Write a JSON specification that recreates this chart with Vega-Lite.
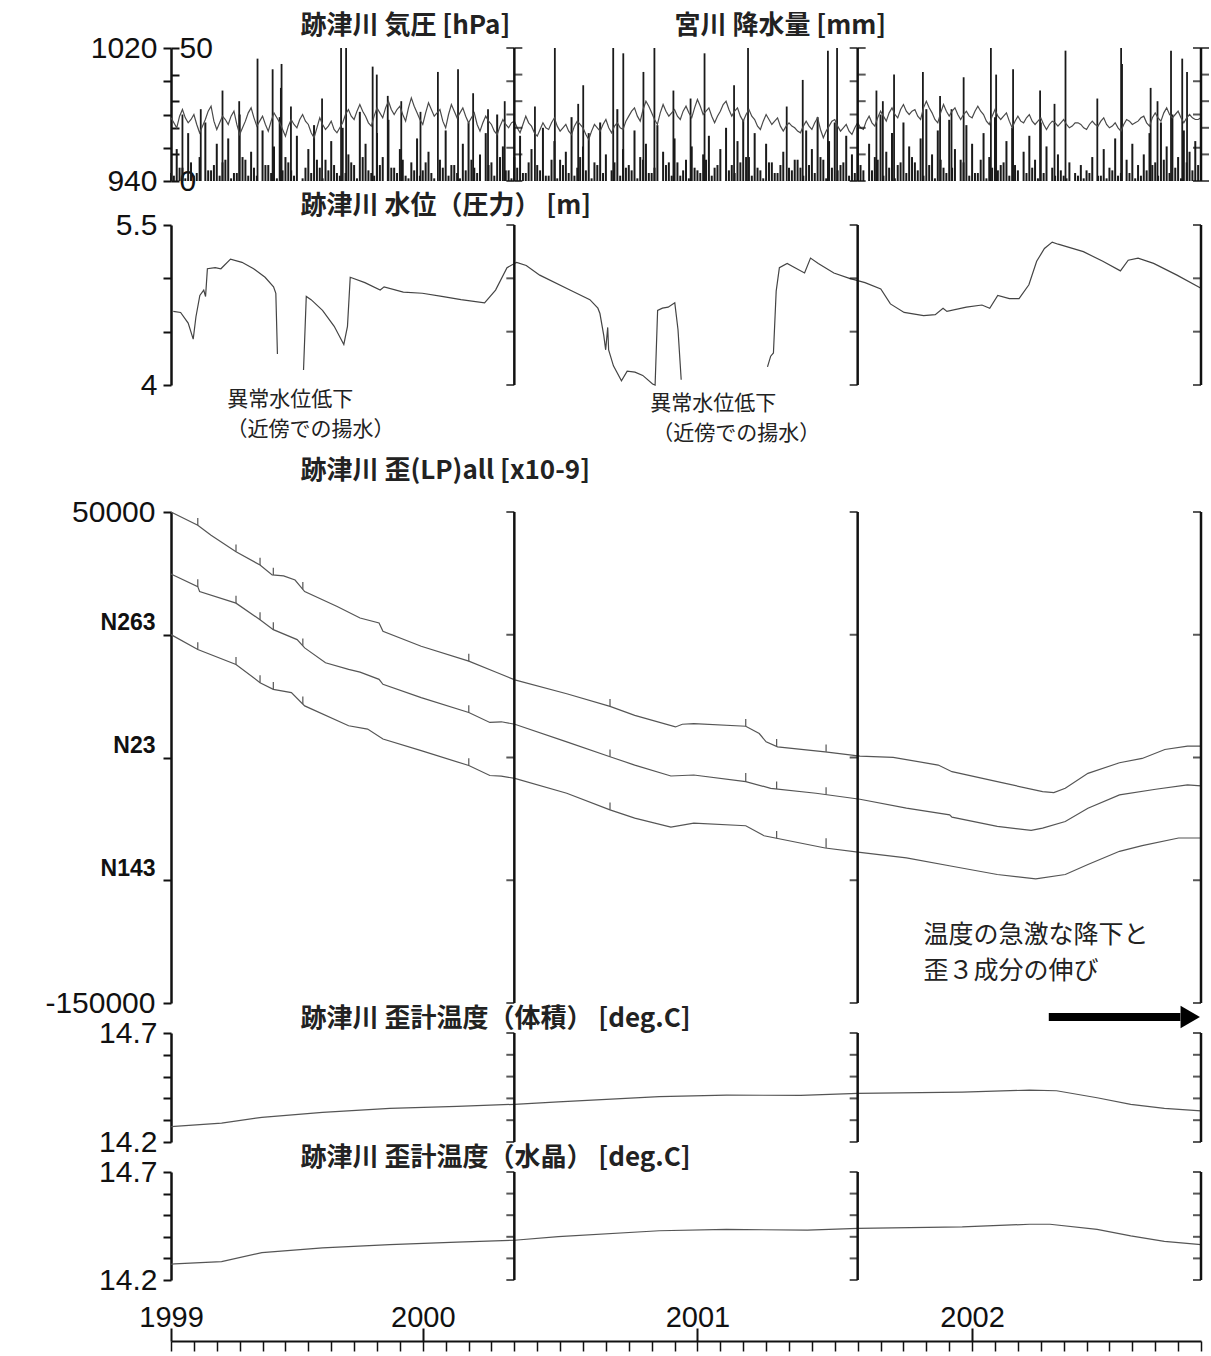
{
"$schema":"https://vega.github.io/schema/vega-lite/v6.json",
"width":1030,"height":1293,
"autosize":{"type":"none"},
"padding":{"left":171,"top":48,"right":10,"bottom":15},
"background":"white",
"config":{"view":{"stroke":null},"axis":{"grid":false,"labelFont":"Liberation Sans","labelColor":"#111","domainColor":"#111","tickColor":"#111","titleFont":"Noto Sans CJK JP","titleColor":"#222","labelOverlap":false,"labelBound":false,"labelFlush":false},"text":{"font":"Noto Sans CJK JP"}},
"datasets":{
"met":[
{"m":0,"hpa":978,"mm":3},{"m":0.125,"hpa":975,"mm":2},{"m":0.25,"hpa":972,"mm":12},{"m":0.375,"hpa":979,"mm":5},{"m":0.5,"hpa":983,"mm":5},{"m":0.625,"hpa":978,"mm":1},{"m":0.75,"hpa":975,"mm":18},{"m":0.875,"hpa":977,"mm":7},{"m":1,"hpa":980,"mm":2},{"m":1.125,"hpa":974,"mm":3},{"m":1.25,"hpa":969,"mm":9},{"m":1.375,"hpa":973,"mm":0},{"m":1.5,"hpa":977,"mm":22},{"m":1.625,"hpa":982,"mm":4},{"m":1.75,"hpa":985,"mm":4},{"m":1.875,"hpa":976,"mm":6},{"m":2,"hpa":971,"mm":14},{"m":2.125,"hpa":975,"mm":2},{"m":2.25,"hpa":979,"mm":7},{"m":2.375,"hpa":977,"mm":8},
{"m":2.5,"hpa":974,"mm":16},{"m":2.625,"hpa":979,"mm":1},{"m":2.75,"hpa":982,"mm":3},{"m":2.875,"hpa":974,"mm":3},{"m":3,"hpa":968,"mm":25},{"m":3.125,"hpa":972,"mm":9},{"m":3.25,"hpa":976,"mm":8},{"m":3.375,"hpa":981,"mm":2},{"m":3.5,"hpa":984,"mm":11},{"m":3.625,"hpa":978,"mm":5},{"m":3.75,"hpa":973,"mm":2},{"m":3.875,"hpa":976,"mm":0},{"m":4,"hpa":979,"mm":19},{"m":4.125,"hpa":974,"mm":6},{"m":4.25,"hpa":970,"mm":6},{"m":4.375,"hpa":976,"mm":3},{"m":4.5,"hpa":981,"mm":13},{"m":4.625,"hpa":978,"mm":1},{"m":4.75,"hpa":975,"mm":24},{"m":4.875,"hpa":971,"mm":4},
{"m":5,"hpa":967,"mm":9},{"m":5.125,"hpa":973,"mm":7},{"m":5.25,"hpa":977,"mm":4},{"m":5.375,"hpa":974,"mm":2},{"m":5.5,"hpa":972,"mm":17},{"m":5.625,"hpa":977,"mm":0},{"m":5.75,"hpa":980,"mm":1},{"m":5.875,"hpa":976,"mm":5},{"m":6,"hpa":974,"mm":12},{"m":6.125,"hpa":969,"mm":3},{"m":6.25,"hpa":966,"mm":21},{"m":6.375,"hpa":972,"mm":8},{"m":6.5,"hpa":978,"mm":5},{"m":6.625,"hpa":974,"mm":1},{"m":6.75,"hpa":971,"mm":8},{"m":6.875,"hpa":973,"mm":4},{"m":7,"hpa":976,"mm":15},{"m":7.125,"hpa":971,"mm":6},{"m":7.25,"hpa":969,"mm":3},{"m":7.375,"hpa":972,"mm":2},
{"m":7.5,"hpa":975,"mm":20},{"m":7.625,"hpa":980,"mm":3},{"m":7.75,"hpa":983,"mm":10},{"m":7.875,"hpa":979,"mm":7},{"m":8,"hpa":977,"mm":6},{"m":8.125,"hpa":982,"mm":1},{"m":8.25,"hpa":986,"mm":26},{"m":8.375,"hpa":982,"mm":9},{"m":8.5,"hpa":979,"mm":14},{"m":8.625,"hpa":975,"mm":4},{"m":8.75,"hpa":973,"mm":3},{"m":8.875,"hpa":979,"mm":2},{"m":9,"hpa":984,"mm":18},{"m":9.125,"hpa":981,"mm":6},{"m":9.25,"hpa":978,"mm":9},{"m":9.375,"hpa":984,"mm":0},{"m":9.5,"hpa":988,"mm":23},{"m":9.625,"hpa":983,"mm":5},{"m":9.75,"hpa":980,"mm":5},{"m":9.875,"hpa":983,"mm":3},
{"m":10,"hpa":985,"mm":12},{"m":10.125,"hpa":980,"mm":8},{"m":10.25,"hpa":976,"mm":2},{"m":10.375,"hpa":984,"mm":1},{"m":10.5,"hpa":990,"mm":7},{"m":10.625,"hpa":985,"mm":4},{"m":10.75,"hpa":981,"mm":16},{"m":10.875,"hpa":977,"mm":2},{"m":11,"hpa":974,"mm":4},{"m":11.125,"hpa":981,"mm":7},{"m":11.25,"hpa":987,"mm":11},{"m":11.375,"hpa":983,"mm":3},{"m":11.5,"hpa":979,"mm":1},{"m":11.625,"hpa":981,"mm":0},{"m":11.75,"hpa":983,"mm":8},{"m":11.875,"hpa":976,"mm":5},{"m":12,"hpa":972,"mm":19},{"m":12.125,"hpa":980,"mm":2},{"m":12.25,"hpa":986,"mm":6},{"m":12.375,"hpa":982,"mm":6},
{"m":12.5,"hpa":978,"mm":3},{"m":12.625,"hpa":981,"mm":1},{"m":12.75,"hpa":984,"mm":14},{"m":12.875,"hpa":979,"mm":4},{"m":13,"hpa":975,"mm":22},{"m":13.125,"hpa":978,"mm":8},{"m":13.25,"hpa":981,"mm":5},{"m":13.375,"hpa":974,"mm":3},{"m":13.5,"hpa":970,"mm":10},{"m":13.625,"hpa":975,"mm":0},{"m":13.75,"hpa":979,"mm":18},{"m":13.875,"hpa":976,"mm":6},{"m":14,"hpa":974,"mm":7},{"m":14.125,"hpa":970,"mm":2},{"m":14.25,"hpa":968,"mm":25},{"m":14.375,"hpa":973,"mm":9},{"m":14.5,"hpa":977,"mm":13},{"m":14.625,"hpa":974,"mm":4},{"m":14.75,"hpa":972,"mm":4},{"m":14.875,"hpa":975,"mm":1},
{"m":15,"hpa":976,"mm":9},{"m":15.125,"hpa":972,"mm":5},{"m":15.25,"hpa":969,"mm":17},{"m":15.375,"hpa":974,"mm":3},{"m":15.5,"hpa":979,"mm":3},{"m":15.625,"hpa":975,"mm":7},{"m":15.75,"hpa":973,"mm":12},{"m":15.875,"hpa":969,"mm":0},{"m":16,"hpa":967,"mm":6},{"m":16.125,"hpa":971,"mm":4},{"m":16.25,"hpa":975,"mm":20},{"m":16.375,"hpa":972,"mm":2},{"m":16.5,"hpa":971,"mm":2},{"m":16.625,"hpa":975,"mm":8},{"m":16.75,"hpa":978,"mm":15},{"m":16.875,"hpa":973,"mm":1},{"m":17,"hpa":970,"mm":8},{"m":17.125,"hpa":972,"mm":6},{"m":17.25,"hpa":974,"mm":11},{"m":17.375,"hpa":970,"mm":3},
{"m":17.5,"hpa":968,"mm":24},{"m":17.625,"hpa":973,"mm":2},{"m":17.75,"hpa":976,"mm":5},{"m":17.875,"hpa":974,"mm":9},{"m":18,"hpa":972,"mm":13},{"m":18.125,"hpa":968,"mm":4},{"m":18.25,"hpa":965,"mm":18},{"m":18.375,"hpa":970,"mm":1},{"m":18.5,"hpa":974,"mm":7},{"m":18.625,"hpa":972,"mm":6},{"m":18.75,"hpa":970,"mm":22},{"m":18.875,"hpa":974,"mm":3},{"m":19,"hpa":977,"mm":10},{"m":19.125,"hpa":972,"mm":0},{"m":19.25,"hpa":969,"mm":4},{"m":19.375,"hpa":973,"mm":7},{"m":19.5,"hpa":975,"mm":27},{"m":19.625,"hpa":972,"mm":2},{"m":19.75,"hpa":971,"mm":12},{"m":19.875,"hpa":976,"mm":5},
{"m":20,"hpa":979,"mm":6},{"m":20.125,"hpa":982,"mm":4},{"m":20.25,"hpa":984,"mm":19},{"m":20.375,"hpa":979,"mm":1},{"m":20.5,"hpa":976,"mm":9},{"m":20.625,"hpa":983,"mm":8},{"m":20.75,"hpa":988,"mm":14},{"m":20.875,"hpa":985,"mm":3},{"m":21,"hpa":981,"mm":3},{"m":21.125,"hpa":977,"mm":5},{"m":21.25,"hpa":974,"mm":21},{"m":21.375,"hpa":981,"mm":0},{"m":21.5,"hpa":986,"mm":11},{"m":21.625,"hpa":982,"mm":6},{"m":21.75,"hpa":979,"mm":7},{"m":21.875,"hpa":981,"mm":2},{"m":22,"hpa":983,"mm":16},{"m":22.125,"hpa":979,"mm":7},{"m":22.25,"hpa":977,"mm":2},{"m":22.375,"hpa":982,"mm":4},
{"m":22.5,"hpa":985,"mm":8},{"m":22.625,"hpa":981,"mm":1},{"m":22.75,"hpa":978,"mm":13},{"m":22.875,"hpa":984,"mm":5},{"m":23,"hpa":989,"mm":4},{"m":23.125,"hpa":985,"mm":3},{"m":23.25,"hpa":980,"mm":10},{"m":23.375,"hpa":982,"mm":8},{"m":23.5,"hpa":984,"mm":17},{"m":23.625,"hpa":979,"mm":2},{"m":23.75,"hpa":975,"mm":5},{"m":23.875,"hpa":979,"mm":6},{"m":24,"hpa":982,"mm":12},{"m":24.125,"hpa":986,"mm":0},{"m":24.25,"hpa":988,"mm":20},{"m":24.375,"hpa":983,"mm":4},{"m":24.5,"hpa":979,"mm":6},{"m":24.625,"hpa":982,"mm":3},{"m":24.75,"hpa":984,"mm":15},{"m":24.875,"hpa":979,"mm":7},
{"m":25,"hpa":976,"mm":23},{"m":25.125,"hpa":980,"mm":9},{"m":25.25,"hpa":983,"mm":9},{"m":25.375,"hpa":979,"mm":2},{"m":25.5,"hpa":977,"mm":18},{"m":25.625,"hpa":973,"mm":5},{"m":25.75,"hpa":971,"mm":4},{"m":25.875,"hpa":976,"mm":1},{"m":26,"hpa":980,"mm":14},{"m":26.125,"hpa":977,"mm":7},{"m":26.25,"hpa":974,"mm":7},{"m":26.375,"hpa":976,"mm":3},{"m":26.5,"hpa":978,"mm":3},{"m":26.625,"hpa":973,"mm":6},{"m":26.75,"hpa":970,"mm":11},{"m":26.875,"hpa":973,"mm":0},{"m":27,"hpa":975,"mm":5},{"m":27.125,"hpa":973,"mm":4},{"m":27.25,"hpa":972,"mm":8},{"m":27.375,"hpa":970,"mm":8},
{"m":27.5,"hpa":969,"mm":5},{"m":27.625,"hpa":973,"mm":2},{"m":27.75,"hpa":976,"mm":19},{"m":27.875,"hpa":973,"mm":6},{"m":28,"hpa":971,"mm":12},{"m":28.125,"hpa":975,"mm":3},{"m":28.25,"hpa":978,"mm":24},{"m":28.375,"hpa":971,"mm":9},{"m":28.5,"hpa":966,"mm":8},{"m":28.625,"hpa":970,"mm":1},{"m":28.75,"hpa":973,"mm":15},{"m":28.875,"hpa":976,"mm":5},{"m":29,"hpa":977,"mm":22},{"m":29.125,"hpa":973,"mm":4},{"m":29.25,"hpa":970,"mm":6},{"m":29.375,"hpa":972,"mm":7},{"m":29.5,"hpa":974,"mm":17},{"m":29.625,"hpa":970,"mm":2},{"m":29.75,"hpa":968,"mm":10},{"m":29.875,"hpa":972,"mm":3},
{"m":30,"hpa":975,"mm":20},{"m":30.125,"hpa":972,"mm":6},{"m":30.25,"hpa":971,"mm":4},{"m":30.375,"hpa":976,"mm":0},{"m":30.5,"hpa":979,"mm":14},{"m":30.625,"hpa":975,"mm":4},{"m":30.75,"hpa":973,"mm":9},{"m":30.875,"hpa":978,"mm":8},{"m":31,"hpa":982,"mm":25},{"m":31.125,"hpa":979,"mm":2},{"m":31.25,"hpa":976,"mm":11},{"m":31.375,"hpa":981,"mm":5},{"m":31.5,"hpa":984,"mm":18},{"m":31.625,"hpa":980,"mm":1},{"m":31.75,"hpa":978,"mm":6},{"m":31.875,"hpa":983,"mm":7},{"m":32,"hpa":986,"mm":22},{"m":32.125,"hpa":982,"mm":3},{"m":32.25,"hpa":980,"mm":13},{"m":32.375,"hpa":982,"mm":9},
{"m":32.5,"hpa":983,"mm":7},{"m":32.625,"hpa":979,"mm":4},{"m":32.75,"hpa":977,"mm":16},{"m":32.875,"hpa":984,"mm":2},{"m":33,"hpa":988,"mm":27},{"m":33.125,"hpa":984,"mm":6},{"m":33.25,"hpa":981,"mm":10},{"m":33.375,"hpa":977,"mm":1},{"m":33.5,"hpa":975,"mm":19},{"m":33.625,"hpa":981,"mm":8},{"m":33.75,"hpa":986,"mm":5},{"m":33.875,"hpa":982,"mm":3},{"m":34,"hpa":979,"mm":23},{"m":34.125,"hpa":982,"mm":5},{"m":34.25,"hpa":984,"mm":12},{"m":34.375,"hpa":980,"mm":0},{"m":34.5,"hpa":977,"mm":8},{"m":34.625,"hpa":980,"mm":7},{"m":34.75,"hpa":982,"mm":21},{"m":34.875,"hpa":979,"mm":2},
{"m":35,"hpa":978,"mm":14},{"m":35.125,"hpa":982,"mm":3},{"m":35.25,"hpa":985,"mm":3},{"m":35.375,"hpa":982,"mm":8},{"m":35.5,"hpa":980,"mm":18},{"m":35.625,"hpa":976,"mm":1},{"m":35.75,"hpa":974,"mm":9},{"m":35.875,"hpa":979,"mm":5},{"m":36,"hpa":983,"mm":24},{"m":36.125,"hpa":979,"mm":4},{"m":36.25,"hpa":977,"mm":6},{"m":36.375,"hpa":979,"mm":7},{"m":36.5,"hpa":981,"mm":15},{"m":36.625,"hpa":976,"mm":2},{"m":36.75,"hpa":972,"mm":20},{"m":36.875,"hpa":976,"mm":6},{"m":37,"hpa":979,"mm":4},{"m":37.125,"hpa":976,"mm":0},{"m":37.25,"hpa":975,"mm":11},{"m":37.375,"hpa":978,"mm":3},
{"m":37.5,"hpa":980,"mm":17},{"m":37.625,"hpa":976,"mm":5},{"m":37.75,"hpa":974,"mm":8},{"m":37.875,"hpa":976,"mm":1},{"m":38,"hpa":978,"mm":22},{"m":38.125,"hpa":974,"mm":3},{"m":38.25,"hpa":971,"mm":13},{"m":38.375,"hpa":974,"mm":0},{"m":38.5,"hpa":976,"mm":5},{"m":38.625,"hpa":975,"mm":2},{"m":38.75,"hpa":973,"mm":10},{"m":38.875,"hpa":975,"mm":4},{"m":39,"hpa":977,"mm":2},{"m":39.125,"hpa":974,"mm":1},{"m":39.25,"hpa":972,"mm":7},{"m":39.375,"hpa":973,"mm":0},{"m":39.5,"hpa":975,"mm":3},{"m":39.625,"hpa":975,"mm":2},{"m":39.75,"hpa":974,"mm":6},{"m":39.875,"hpa":972,"mm":1},
{"m":40,"hpa":971,"mm":4},{"m":40.125,"hpa":974,"mm":3},{"m":40.25,"hpa":976,"mm":9},{"m":40.375,"hpa":974,"mm":0},{"m":40.5,"hpa":973,"mm":2},{"m":40.625,"hpa":976,"mm":2},{"m":40.75,"hpa":978,"mm":12},{"m":40.875,"hpa":974,"mm":1},{"m":41,"hpa":972,"mm":5},{"m":41.125,"hpa":973,"mm":4},{"m":41.25,"hpa":975,"mm":16},{"m":41.375,"hpa":972,"mm":2},{"m":41.5,"hpa":970,"mm":3},{"m":41.625,"hpa":974,"mm":0},{"m":41.75,"hpa":977,"mm":8},{"m":41.875,"hpa":976,"mm":3},{"m":42,"hpa":974,"mm":14},{"m":42.125,"hpa":975,"mm":1},{"m":42.25,"hpa":976,"mm":6},{"m":42.375,"hpa":978,"mm":2},
{"m":42.5,"hpa":979,"mm":10},{"m":42.625,"hpa":975,"mm":4},{"m":42.75,"hpa":973,"mm":18},{"m":42.875,"hpa":978,"mm":6},{"m":43,"hpa":981,"mm":7},{"m":43.125,"hpa":978,"mm":2},{"m":43.25,"hpa":976,"mm":22},{"m":43.375,"hpa":981,"mm":8},{"m":43.5,"hpa":984,"mm":13},{"m":43.625,"hpa":980,"mm":3},{"m":43.75,"hpa":978,"mm":25},{"m":43.875,"hpa":980,"mm":5},{"m":44,"hpa":982,"mm":9},{"m":44.125,"hpa":978,"mm":1},{"m":44.25,"hpa":975,"mm":19},{"m":44.375,"hpa":978,"mm":7},{"m":44.5,"hpa":980,"mm":11},{"m":44.625,"hpa":978,"mm":4},{"m":44.75,"hpa":977,"mm":15},{"m":44.875,"hpa":977,"mm":6},
{"m":45,"hpa":978,"mm":0}
],
"peak":[
{"m":0.5,"mm":25},{"m":1.3,"mm":27},{"m":2.25,"mm":34},{"m":2.98,"mm":30},{"m":3.78,"mm":46},{"m":4.44,"mm":42},{"m":4.8,"mm":35},{"m":4.83,"mm":44},{"m":5.24,"mm":28},{"m":6.6,"mm":31},{"m":7.43,"mm":50},{"m":7.65,"mm":50},{"m":8.81,"mm":43},{"m":8.99,"mm":40},{"m":9.47,"mm":32},{"m":10.06,"mm":30},{"m":10.9,"mm":26},{"m":11.66,"mm":41},{"m":12.54,"mm":42},{"m":13.2,"mm":33},{"m":13.85,"mm":27},{"m":14.58,"mm":30},{"m":15.9,"mm":28},{"m":16.77,"mm":50},{"m":17.79,"mm":29},{"m":18.01,"mm":36},{"m":19.32,"mm":50},{"m":19.76,"mm":48},{"m":20.64,"mm":41},{"m":21.12,"mm":50},{"m":21.95,"mm":34},{"m":22.7,"mm":31},{"m":23.31,"mm":48},{"m":24.6,"mm":36},{"m":25.21,"mm":50},{"m":26.9,"mm":28},{"m":27.6,"mm":38},{"m":28.7,"mm":49},{"m":29.1,"mm":50},{"m":30.82,"mm":34},{"m":31.1,"mm":30},{"m":31.59,"mm":40},{"m":32.85,"mm":41},{"m":33.6,"mm":32},{"m":34.1,"mm":27},{"m":34.63,"mm":39},{"m":35.82,"mm":50},{"m":36.05,"mm":40},{"m":36.79,"mm":42},{"m":37.97,"mm":34},{"m":38.6,"mm":29},{"m":39.08,"mm":49},{"m":40.47,"mm":31},{"m":41.51,"mm":50},{"m":41.55,"mm":44},{"m":42.8,"mm":35},{"m":43.1,"mm":30},{"m":43.69,"mm":49},{"m":44.18,"mm":46},{"m":44.39,"mm":41}
],
"wl":[
{"seg":1,"m":0.1,"v":4.69},{"seg":1,"m":0.42,"v":4.68},{"seg":1,"m":0.75,"v":4.58},{"seg":1,"m":0.97,"v":4.43},{"seg":1,"m":1.09,"v":4.64},{"seg":1,"m":1.26,"v":4.84},{"seg":1,"m":1.43,"v":4.89},{"seg":1,"m":1.51,"v":4.83},{"seg":1,"m":1.59,"v":5.09},{"seg":1,"m":1.93,"v":5.1},{"seg":1,"m":2.18,"v":5.09},{"seg":1,"m":2.6,"v":5.18},{"seg":1,"m":3.1,"v":5.15},{"seg":1,"m":3.61,"v":5.09},{"seg":1,"m":4.11,"v":5.01},{"seg":1,"m":4.48,"v":4.92},{"seg":1,"m":4.58,"v":4.86},{"seg":1,"m":4.65,"v":4.29},
{"seg":2,"m":5.79,"v":4.14},{"seg":2,"m":5.91,"v":4.83},{"seg":2,"m":6.12,"v":4.8},{"seg":2,"m":6.62,"v":4.7},{"seg":2,"m":7.13,"v":4.55},{"seg":2,"m":7.55,"v":4.38},{"seg":2,"m":7.71,"v":4.55},{"seg":2,"m":7.83,"v":5.01},{"seg":2,"m":8.47,"v":4.96},{"seg":2,"m":9.14,"v":4.89},{"seg":2,"m":9.31,"v":4.92},{"seg":2,"m":10.15,"v":4.87},{"seg":2,"m":10.98,"v":4.86},{"seg":2,"m":11.83,"v":4.83},{"seg":2,"m":12.67,"v":4.8},{"seg":2,"m":13.7,"v":4.77},{"seg":2,"m":14.18,"v":4.89},{"seg":2,"m":14.68,"v":5.1},{"seg":2,"m":15.1,"v":5.15},{"seg":2,"m":15.52,"v":5.12},{"seg":2,"m":16.11,"v":5.03},{"seg":2,"m":17.43,"v":4.89},{"seg":2,"m":18.3,"v":4.8},{"seg":2,"m":18.65,"v":4.72},{"seg":2,"m":18.74,"v":4.67},{"seg":2,"m":18.91,"v":4.46},{"seg":2,"m":18.99,"v":4.33},{"seg":2,"m":19.08,"v":4.54},{"seg":2,"m":19.12,"v":4.33},{"seg":2,"m":19.33,"v":4.18},{"seg":2,"m":19.68,"v":4.04},{"seg":2,"m":19.93,"v":4.13},{"seg":2,"m":20.27,"v":4.12},{"seg":2,"m":20.61,"v":4.09},{"seg":2,"m":21.04,"v":4.01},{"seg":2,"m":21.15,"v":4.0},{"seg":2,"m":21.26,"v":4.7},{"seg":2,"m":21.47,"v":4.72},{"seg":2,"m":21.72,"v":4.73},{"seg":2,"m":22.01,"v":4.77},{"seg":2,"m":22.15,"v":4.52},{"seg":2,"m":22.29,"v":4.05},
{"seg":3,"m":26.06,"v":4.17},{"seg":3,"m":26.2,"v":4.27},{"seg":3,"m":26.32,"v":4.3},{"seg":3,"m":26.44,"v":4.88},{"seg":3,"m":26.58,"v":5.1},{"seg":3,"m":26.92,"v":5.14},{"seg":3,"m":27.26,"v":5.1},{"seg":3,"m":27.68,"v":5.05},{"seg":3,"m":27.94,"v":5.19},{"seg":3,"m":28.28,"v":5.14},{"seg":3,"m":28.96,"v":5.05},{"seg":3,"m":29.64,"v":5.0},{"seg":3,"m":30.32,"v":4.96},{"seg":3,"m":31.01,"v":4.9},{"seg":3,"m":31.43,"v":4.76},{"seg":3,"m":32.03,"v":4.68},{"seg":3,"m":32.88,"v":4.65},{"seg":3,"m":33.39,"v":4.66},{"seg":3,"m":33.73,"v":4.72},{"seg":3,"m":33.9,"v":4.69},{"seg":3,"m":34.75,"v":4.73},{"seg":3,"m":35.43,"v":4.75},{"seg":3,"m":35.77,"v":4.72},{"seg":3,"m":36.12,"v":4.84},{"seg":3,"m":36.63,"v":4.81},{"seg":3,"m":37.05,"v":4.81},{"seg":3,"m":37.48,"v":4.94},{"seg":3,"m":37.82,"v":5.16},{"seg":3,"m":38.16,"v":5.28},{"seg":3,"m":38.5,"v":5.34},{"seg":3,"m":38.76,"v":5.32},{"seg":3,"m":39.86,"v":5.25},{"seg":3,"m":40.71,"v":5.16},{"seg":3,"m":41.48,"v":5.07},{"seg":3,"m":41.82,"v":5.17},{"seg":3,"m":42.25,"v":5.19},{"seg":3,"m":42.93,"v":5.14},{"seg":3,"m":43.95,"v":5.03},{"seg":3,"m":44.98,"v":4.91}
],
"st":[
{"c":"A","m":0,"v":50000},{"c":"A","m":1.17,"v":44600},{"c":"A","m":1.75,"v":40550},{"c":"A","m":2.84,"v":33800},{"c":"A","m":3.89,"v":28400},{"c":"A","m":4.42,"v":24350},{"c":"A","m":4.92,"v":23950},{"c":"A","m":5.42,"v":22300},{"c":"A","m":5.84,"v":17600},{"c":"A","m":7.26,"v":11530},{"c":"A","m":8.26,"v":6800},{"c":"A","m":9.09,"v":4770},{"c":"A","m":9.26,"v":1400},{"c":"A","m":10.93,"v":-4700},{"c":"A","m":13.01,"v":-10750},{"c":"A","m":14.26,"v":-15475},{"c":"A","m":15.02,"v":-18360},{"c":"A","m":17.29,"v":-24030},{"c":"A","m":19.18,"v":-29170},{"c":"A","m":20.26,"v":-32820},{"c":"A","m":22.04,"v":-37550},{"c":"A","m":22.34,"v":-36460},{"c":"A","m":22.84,"v":-36190},{"c":"A","m":25.11,"v":-37270},{"c":"A","m":25.7,"v":-40250},{"c":"A","m":26,"v":-43620},{"c":"A","m":26.5,"v":-45650},{"c":"A","m":28.58,"v":-47680},{"c":"A","m":30.1,"v":-49430},{"c":"A","m":31.55,"v":-49970},{"c":"A","m":33.52,"v":-53080},{"c":"A","m":34.12,"v":-55780},{"c":"A","m":36.1,"v":-59840},{"c":"A","m":38.08,"v":-63890},{"c":"A","m":38.57,"v":-64300},{"c":"A","m":39.07,"v":-62540},{"c":"A","m":40.06,"v":-56460},{"c":"A","m":41.44,"v":-52130},{"c":"A","m":42.43,"v":-50380},{"c":"A","m":43.42,"v":-46730},{"c":"A","m":44.41,"v":-45380},{"c":"A","m":45,"v":-45380},
{"c":"B","m":0,"v":24750},{"c":"B","m":1.17,"v":19600},{"c":"B","m":1.25,"v":17600},{"c":"B","m":2.84,"v":12875},{"c":"B","m":3.89,"v":6125},{"c":"B","m":4.47,"v":2075},{"c":"B","m":5.51,"v":-1975},{"c":"B","m":5.84,"v":-5350},{"c":"B","m":6.75,"v":-11425},{"c":"B","m":7.76,"v":-14125},{"c":"B","m":8.26,"v":-15200},{"c":"B","m":9.09,"v":-18175},{"c":"B","m":9.26,"v":-20200},{"c":"B","m":10.93,"v":-25600},{"c":"B","m":13.01,"v":-31675},{"c":"B","m":13.93,"v":-35725},{"c":"B","m":14.43,"v":-35450},{"c":"B","m":15.02,"v":-36460},{"c":"B","m":17.29,"v":-43620},{"c":"B","m":19.18,"v":-49700},{"c":"B","m":20.26,"v":-53080},{"c":"B","m":21.84,"v":-57540},{"c":"B","m":22.84,"v":-57130},{"c":"B","m":25.11,"v":-59840},{"c":"B","m":26.2,"v":-62540},{"c":"B","m":28.18,"v":-64560},{"c":"B","m":30.1,"v":-67000},{"c":"B","m":32.13,"v":-70640},{"c":"B","m":34.02,"v":-73350},{"c":"B","m":34.12,"v":-74290},{"c":"B","m":36.1,"v":-78070},{"c":"B","m":37.58,"v":-79700},{"c":"B","m":38.08,"v":-78750},{"c":"B","m":39.07,"v":-76050},{"c":"B","m":40.06,"v":-70640},{"c":"B","m":41.44,"v":-65240},{"c":"B","m":43.02,"v":-62940},{"c":"B","m":44.41,"v":-61190},{"c":"B","m":45,"v":-61590},
{"c":"C","m":0,"v":50},{"c":"C","m":1.17,"v":-6025},{"c":"C","m":2.84,"v":-12100},{"c":"C","m":3.89,"v":-19525},{"c":"C","m":4.47,"v":-22225},{"c":"C","m":5.26,"v":-23575},{"c":"C","m":5.84,"v":-28975},{"c":"C","m":7.76,"v":-37075},{"c":"C","m":8.59,"v":-38425},{"c":"C","m":9.26,"v":-42475},{"c":"C","m":10.93,"v":-47200},{"c":"C","m":13.01,"v":-53275},{"c":"C","m":13.93,"v":-57325},{"c":"C","m":14.43,"v":-57600},{"c":"C","m":15.02,"v":-58490},{"c":"C","m":17.29,"v":-64560},{"c":"C","m":19.18,"v":-71320},{"c":"C","m":20.26,"v":-74690},{"c":"C","m":21.84,"v":-78340},{"c":"C","m":22.84,"v":-76720},{"c":"C","m":25.11,"v":-77800},{"c":"C","m":25.91,"v":-81860},{"c":"C","m":28.58,"v":-86860},{"c":"C","m":30.1,"v":-88610},{"c":"C","m":32.13,"v":-90910},{"c":"C","m":34.12,"v":-94290},{"c":"C","m":36.1,"v":-97660},{"c":"C","m":37.78,"v":-99420},{"c":"C","m":39.07,"v":-97660},{"c":"C","m":40.06,"v":-93610},{"c":"C","m":41.44,"v":-88210},{"c":"C","m":42.43,"v":-85910},{"c":"C","m":44.02,"v":-82800},{"c":"C","m":45,"v":-82800}
],
"sp":[
{"m":1.17,"v":44600,"v2":47600},{"m":2.84,"v":33800,"v2":36800},{"m":3.89,"v":28400,"v2":31400},{"m":4.47,"v":24300,"v2":27300},{"m":5.76,"v":18500,"v2":21500},{"m":13.01,"v":-10750,"v2":-7750},{"m":19.18,"v":-29170,"v2":-26170},{"m":25.11,"v":-37270,"v2":-34270},{"m":26.46,"v":-45500,"v2":-42500},{"m":28.62,"v":-47700,"v2":-44700},
{"m":1.17,"v":19600,"v2":22600},{"m":2.84,"v":12875,"v2":15875},{"m":3.89,"v":6125,"v2":9125},{"m":4.47,"v":2075,"v2":5075},{"m":5.76,"v":-4500,"v2":-1500},{"m":13.01,"v":-31675,"v2":-28675},{"m":19.18,"v":-49700,"v2":-46700},{"m":25.11,"v":-59840,"v2":-56340},{"m":26.46,"v":-62800,"v2":-59800},{"m":28.62,"v":-65100,"v2":-62100},
{"m":1.17,"v":-6025,"v2":-3025},{"m":2.84,"v":-12100,"v2":-9100},{"m":3.89,"v":-19525,"v2":-16525},{"m":4.47,"v":-22225,"v2":-19225},{"m":5.76,"v":-28200,"v2":-25200},{"m":13.01,"v":-53275,"v2":-50275},{"m":19.18,"v":-71320,"v2":-68320},{"m":26.46,"v":-82900,"v2":-79900},{"m":28.62,"v":-86900,"v2":-82900}
],
"t1":[
{"m":0,"v":14.27},{"m":0.15,"v":14.272},{"m":2.21,"v":14.287},{"m":3.97,"v":14.313},{"m":6.62,"v":14.336},{"m":9.56,"v":14.354},{"m":12.5,"v":14.363},{"m":15,"v":14.373},{"m":16.92,"v":14.384},{"m":21.33,"v":14.408},{"m":24.27,"v":14.415},{"m":27.51,"v":14.414},{"m":30.01,"v":14.423},{"m":34.57,"v":14.429},{"m":37.51,"v":14.438},{"m":38.69,"v":14.435},{"m":40.46,"v":14.403},{"m":41.93,"v":14.373},{"m":43.4,"v":14.354},{"m":45,"v":14.343}
],
"t2":[
{"m":0,"v":14.273},{"m":0.15,"v":14.275},{"m":2.21,"v":14.285},{"m":3.97,"v":14.327},{"m":6.62,"v":14.349},{"m":9.56,"v":14.364},{"m":12.5,"v":14.375},{"m":15,"v":14.384},{"m":16.92,"v":14.401},{"m":21.33,"v":14.428},{"m":24.27,"v":14.434},{"m":27.8,"v":14.431},{"m":30.01,"v":14.439},{"m":34.57,"v":14.446},{"m":37.51,"v":14.458},{"m":38.4,"v":14.458},{"m":40.46,"v":14.434},{"m":41.93,"v":14.404},{"m":43.4,"v":14.379},{"m":45,"v":14.364}
],
"div":[{"m":15},{"m":30},{"m":45}],
"tk":[
{"p":"pres","v":940,"m":[15,30,45]},{"p":"pres","v":960,"m":[15,30,45]},{"p":"pres","v":980,"m":[15,30,45]},{"p":"pres","v":1000,"m":[15,30,45]},{"p":"pres","v":1020,"m":[15,30,45]},
{"p":"rain","v":0,"m":[15,30,45]},{"p":"rain","v":10,"m":[15,30,45]},{"p":"rain","v":20,"m":[15,30,45]},{"p":"rain","v":30,"m":[15,30,45]},{"p":"rain","v":40,"m":[15,30,45]},{"p":"rain","v":50,"m":[15,30,45]},
{"p":"wl","v":4,"m":[15,30,45]},{"p":"wl","v":4.5,"m":[15,30,45]},{"p":"wl","v":5,"m":[15,30,45]},{"p":"wl","v":5.5,"m":[15,30,45]},
{"p":"st","v":-150000,"m":[15,30,45]},{"p":"st","v":-100000,"m":[15,30,45]},{"p":"st","v":-50000,"m":[15,30,45]},{"p":"st","v":0,"m":[15,30,45]},{"p":"st","v":50000,"m":[15,30,45]},
{"p":"tc","v":14.2,"m":[15,30,45]},{"p":"tc","v":14.3,"m":[15,30,45]},{"p":"tc","v":14.4,"m":[15,30,45]},{"p":"tc","v":14.5,"m":[15,30,45]},{"p":"tc","v":14.6,"m":[15,30,45]},{"p":"tc","v":14.7,"m":[15,30,45]}
],
"note":[
{"p":"wl","m":5.21,"v":3.86,"txt":"異常水位低下"},{"p":"wl","m":6.09,"v":3.575,"txt":"（近傍での揚水）"},{"p":"wl","m":23.69,"v":3.82,"txt":"異常水位低下"},{"p":"wl","m":24.69,"v":3.54,"txt":"（近傍での揚水）"},
{"p":"st","m":32.88,"v":-122500,"txt":"温度の急激な降下と"},{"p":"st","m":32.88,"v":-137000,"txt":"歪３成分の伸び"}
],
"arrow":[{"m":38.35,"m2":44.1,"v":-155700}],
"head":[{"m":44.53,"v":-155700}]
},
"resolve":{"scale":{"y":"independent"},"axis":{"x":"independent","y":"independent"}},
"layer":[
{"data":{"name":"met"},"mark":{"type":"rule","color":"#1a1a1a","strokeWidth":2},
 "encoding":{"x":{"field":"m","type":"quantitative","scale":{"domain":[0,45],"nice":false,"zero":false},"axis":null},
  "y":{"field":"mm","type":"quantitative","scale":{"domain":[0,50],"range":[133,0],"zero":false,"nice":false},
   "axis":{"orient":"left","values":[0,10,20,30,40,50],"labelExpr":"datum.value==50?'50':datum.value==0?'0':''","labelFontSize":30,"labelAlign":"left","labelPadding":0,"tickSize":-8,"tickWidth":2,"domain":false,"title":"宮川 降水量 [mm]","titleAngle":0,"titleAlign":"left","titleBaseline":"middle","titleX":503,"titleY":-23,"titleFontSize":26,"titleFontWeight":"bold"}},
  "y2":{"datum":0}}},
{"data":{"name":"peak"},"mark":{"type":"rule","color":"#1a1a1a","strokeWidth":1.8},
 "encoding":{"x":{"field":"m","type":"quantitative","scale":{"domain":[0,45],"nice":false,"zero":false},"axis":null},
  "y":{"field":"mm","type":"quantitative","scale":{"domain":[0,50],"range":[133,0],"zero":false,"nice":false},"axis":null},
  "y2":{"datum":0}}},
{"data":{"name":"met"},"mark":{"type":"line","color":"#4a4a4a","strokeWidth":1.2},
 "encoding":{"x":{"field":"m","type":"quantitative","scale":{"domain":[0,45],"nice":false,"zero":false},"axis":null},
  "y":{"field":"hpa","type":"quantitative","scale":{"domain":[940,1020],"range":[133,0],"zero":false,"nice":false},
   "axis":{"orient":"left","values":[940,960,980,1000,1020],"labelExpr":"datum.value==1020?'1020':datum.value==940?'940':''","labelFontSize":30,"labelPadding":6,"tickSize":8,"tickWidth":2,"domainWidth":2.5,"title":"跡津川 気圧 [hPa]","titleAngle":0,"titleAlign":"left","titleBaseline":"middle","titleX":129,"titleY":-23,"titleFontSize":26,"titleFontWeight":"bold"}}}},
{"data":{"name":"div"},"mark":{"type":"rule","color":"#111","strokeWidth":2.5},
 "encoding":{"x":{"field":"m","type":"quantitative","scale":{"domain":[0,45],"nice":false,"zero":false},"axis":null},
  "y":{"datum":1020,"type":"quantitative","scale":{"domain":[940,1020],"range":[133,0],"zero":false,"nice":false},"axis":null},"y2":{"datum":940}}},
{"data":{"name":"tk"},"transform":[{"filter":"datum.p=='pres'"},{"flatten":["m"]}],"mark":{"type":"tick","orient":"horizontal","size":8,"thickness":2,"xOffset":-4,"color":"#111"},
 "encoding":{"x":{"field":"m","type":"quantitative","scale":{"domain":[0,45],"nice":false,"zero":false},"axis":null},
  "y":{"field":"v","type":"quantitative","scale":{"domain":[940,1020],"range":[133,0],"zero":false,"nice":false},"axis":null}}},
{"data":{"name":"tk"},"transform":[{"filter":"datum.p=='rain'"},{"flatten":["m"]}],"mark":{"type":"tick","orient":"horizontal","size":8,"thickness":2,"xOffset":4,"color":"#111"},
 "encoding":{"x":{"field":"m","type":"quantitative","scale":{"domain":[0,45],"nice":false,"zero":false},"axis":null},
  "y":{"field":"v","type":"quantitative","scale":{"domain":[0,50],"range":[133,0],"zero":false,"nice":false},"axis":null}}},
{"data":{"name":"wl"},"mark":{"type":"line","color":"#444","strokeWidth":1.2},
 "encoding":{"x":{"field":"m","type":"quantitative","scale":{"domain":[0,45],"nice":false,"zero":false},"axis":null},
  "y":{"field":"v","type":"quantitative","scale":{"domain":[4,5.5],"range":[337,177],"zero":false,"nice":false},
   "axis":{"orient":"left","values":[4,4.5,5,5.5],"labelExpr":"datum.value==5.5?'5.5':datum.value==4?'4':''","labelFontSize":30,"labelPadding":6,"tickSize":8,"tickWidth":2,"domainWidth":2.5,"title":"跡津川 水位（圧力） [m]","titleAngle":0,"titleAlign":"left","titleBaseline":"middle","titleX":129,"titleY":157,"titleFontSize":26,"titleFontWeight":"bold"}},
  "detail":{"field":"seg","type":"nominal"}}},
{"data":{"name":"div"},"mark":{"type":"rule","color":"#111","strokeWidth":2.5},
 "encoding":{"x":{"field":"m","type":"quantitative","scale":{"domain":[0,45],"nice":false,"zero":false},"axis":null},
  "y":{"datum":5.5,"type":"quantitative","scale":{"domain":[4,5.5],"range":[337,177],"zero":false,"nice":false},"axis":null},"y2":{"datum":4}}},
{"data":{"name":"tk"},"transform":[{"filter":"datum.p=='wl'"},{"flatten":["m"]}],"mark":{"type":"tick","orient":"horizontal","size":8,"thickness":2,"xOffset":-4,"color":"#111"},
 "encoding":{"x":{"field":"m","type":"quantitative","scale":{"domain":[0,45],"nice":false,"zero":false},"axis":null},
  "y":{"field":"v","type":"quantitative","scale":{"domain":[4,5.5],"range":[337,177],"zero":false,"nice":false},"axis":null}}},
{"data":{"name":"note"},"transform":[{"filter":"datum.p=='wl'"}],"mark":{"type":"text","fontSize":21,"color":"#222","align":"center","baseline":"middle"},
 "encoding":{"x":{"field":"m","type":"quantitative","scale":{"domain":[0,45],"nice":false,"zero":false},"axis":null},
  "y":{"field":"v","type":"quantitative","scale":{"domain":[4,5.5],"range":[337,177],"zero":false,"nice":false},"axis":null},
  "text":{"field":"txt"}}},
{"data":{"name":"st"},"mark":{"type":"line","color":"#555","strokeWidth":1.2},
 "encoding":{"x":{"field":"m","type":"quantitative","scale":{"domain":[0,45],"nice":false,"zero":false},"axis":null},
  "y":{"field":"v","type":"quantitative","scale":{"domain":[-150000,50000],"range":[955,464],"zero":false,"nice":false},
   "axis":{"orient":"left","values":[-150000,-100000,-50000,0,50000],"labelExpr":"datum.value==50000?'50000':datum.value==0?'N263':datum.value==-50000?'N23':datum.value==-100000?'N143':'-150000'",
    "labelFontSize":{"condition":{"test":"datum.value==50000||datum.value==-150000","value":30},"value":23},
    "labelFontWeight":{"condition":{"test":"datum.value==50000||datum.value==-150000","value":"normal"},"value":"bold"},
    "labelBaseline":{"condition":{"test":"datum.value==50000||datum.value==-150000","value":"middle"},"value":"bottom"},
    "labelPadding":8,"tickSize":8,"tickWidth":2,"domainWidth":2.5,"title":"跡津川 歪(LP)all [x10-9]","titleAngle":0,"titleAlign":"left","titleBaseline":"middle","titleX":129,"titleY":422,"titleFontSize":26,"titleFontWeight":"bold"}},
  "detail":{"field":"c","type":"nominal"}}},
{"data":{"name":"sp"},"mark":{"type":"rule","color":"#555","strokeWidth":1.2},
 "encoding":{"x":{"field":"m","type":"quantitative","scale":{"domain":[0,45],"nice":false,"zero":false},"axis":null},
  "y":{"field":"v","type":"quantitative","scale":{"domain":[-150000,50000],"range":[955,464],"zero":false,"nice":false},"axis":null},
  "y2":{"field":"v2"}}},
{"data":{"name":"div"},"mark":{"type":"rule","color":"#111","strokeWidth":2.5},
 "encoding":{"x":{"field":"m","type":"quantitative","scale":{"domain":[0,45],"nice":false,"zero":false},"axis":null},
  "y":{"datum":50000,"type":"quantitative","scale":{"domain":[-150000,50000],"range":[955,464],"zero":false,"nice":false},"axis":null},"y2":{"datum":-150000}}},
{"data":{"name":"tk"},"transform":[{"filter":"datum.p=='st'"},{"flatten":["m"]}],"mark":{"type":"tick","orient":"horizontal","size":8,"thickness":2,"xOffset":-4,"color":"#111"},
 "encoding":{"x":{"field":"m","type":"quantitative","scale":{"domain":[0,45],"nice":false,"zero":false},"axis":null},
  "y":{"field":"v","type":"quantitative","scale":{"domain":[-150000,50000],"range":[955,464],"zero":false,"nice":false},"axis":null}}},
{"data":{"name":"note"},"transform":[{"filter":"datum.p=='st'"}],"mark":{"type":"text","fontSize":25,"color":"#222","align":"left","baseline":"middle"},
 "encoding":{"x":{"field":"m","type":"quantitative","scale":{"domain":[0,45],"nice":false,"zero":false},"axis":null},
  "y":{"field":"v","type":"quantitative","scale":{"domain":[-150000,50000],"range":[955,464],"zero":false,"nice":false},"axis":null},
  "text":{"field":"txt"}}},
{"data":{"name":"arrow"},"mark":{"type":"rule","color":"#000","strokeWidth":8,"strokeCap":"butt"},
 "encoding":{"x":{"field":"m","type":"quantitative","scale":{"domain":[0,45],"nice":false,"zero":false},"axis":null},"x2":{"field":"m2"},
  "y":{"field":"v","type":"quantitative","scale":{"domain":[-150000,50000],"range":[955,464],"zero":false,"nice":false},"axis":null}}},
{"data":{"name":"head"},"mark":{"type":"point","shape":"triangle-right","filled":true,"size":500,"color":"#000","opacity":1},
 "encoding":{"x":{"field":"m","type":"quantitative","scale":{"domain":[0,45],"nice":false,"zero":false},"axis":null},
  "y":{"field":"v","type":"quantitative","scale":{"domain":[-150000,50000],"range":[955,464],"zero":false,"nice":false},"axis":null}}},
{"data":{"name":"t1"},"mark":{"type":"line","color":"#555","strokeWidth":1.2},
 "encoding":{"x":{"field":"m","type":"quantitative","scale":{"domain":[0,45],"nice":false,"zero":false},
   "axis":{"orient":"bottom","values":[0,1,2,3,4,5,6,7,8,9,10,11,12,13,14,15,16,17,18,19,20,21,22,23,24,25,26,27,28,29,30,31,32,33,34,35,36,37,38,39,40,41,42,43,44,45],"labels":false,"tickSize":10,"tickWidth":1.5,"domainWidth":2,"title":null}},
  "y":{"field":"v","type":"quantitative","scale":{"domain":[14.2,14.7],"range":[1094,985],"zero":false,"nice":false},
   "axis":{"orient":"left","values":[14.2,14.3,14.4,14.5,14.6,14.7],"labelExpr":"datum.value==14.7?'14.7':datum.value==14.2?'14.2':''","labelFontSize":30,"labelPadding":6,"tickSize":8,"tickWidth":2,"domainWidth":2.5,"title":"跡津川 歪計温度（体積） [deg.C]","titleAngle":0,"titleAlign":"left","titleBaseline":"middle","titleX":129,"titleY":970,"titleFontSize":26,"titleFontWeight":"bold"}}}},
{"data":{"name":"div"},"mark":{"type":"rule","color":"#111","strokeWidth":2.5},
 "encoding":{"x":{"field":"m","type":"quantitative","scale":{"domain":[0,45],"nice":false,"zero":false},"axis":null},
  "y":{"datum":14.7,"type":"quantitative","scale":{"domain":[14.2,14.7],"range":[1094,985],"zero":false,"nice":false},"axis":null},"y2":{"datum":14.2}}},
{"data":{"name":"tk"},"transform":[{"filter":"datum.p=='tc'"},{"flatten":["m"]}],"mark":{"type":"tick","orient":"horizontal","size":8,"thickness":2,"xOffset":-4,"color":"#111"},
 "encoding":{"x":{"field":"m","type":"quantitative","scale":{"domain":[0,45],"nice":false,"zero":false},"axis":null},
  "y":{"field":"v","type":"quantitative","scale":{"domain":[14.2,14.7],"range":[1094,985],"zero":false,"nice":false},"axis":null}}},
{"data":{"name":"t2"},"mark":{"type":"line","color":"#555","strokeWidth":1.2},
 "encoding":{"x":{"field":"m","type":"quantitative","scale":{"domain":[0,45],"nice":false,"zero":false},
   "axis":{"orient":"top","offset":-1293,"values":[0,11,23,35],"labelExpr":"datum.value==0?'1999':datum.value==11?'2000':datum.value==23?'2001':'2002'","labelFontSize":29,"tickSize":13,"tickWidth":2,"domain":false,"labelPadding":-4,"title":null}},
  "y":{"field":"v","type":"quantitative","scale":{"domain":[14.2,14.7],"range":[1232,1124],"zero":false,"nice":false},
   "axis":{"orient":"left","values":[14.2,14.3,14.4,14.5,14.6,14.7],"labelExpr":"datum.value==14.7?'14.7':datum.value==14.2?'14.2':''","labelFontSize":30,"labelPadding":6,"tickSize":8,"tickWidth":2,"domainWidth":2.5,"title":"跡津川 歪計温度（水晶） [deg.C]","titleAngle":0,"titleAlign":"left","titleBaseline":"middle","titleX":129,"titleY":1109,"titleFontSize":26,"titleFontWeight":"bold"}}}},
{"data":{"name":"div"},"mark":{"type":"rule","color":"#111","strokeWidth":2.5},
 "encoding":{"x":{"field":"m","type":"quantitative","scale":{"domain":[0,45],"nice":false,"zero":false},"axis":null},
  "y":{"datum":14.7,"type":"quantitative","scale":{"domain":[14.2,14.7],"range":[1232,1124],"zero":false,"nice":false},"axis":null},"y2":{"datum":14.2}}},
{"data":{"name":"tk"},"transform":[{"filter":"datum.p=='tc'"},{"flatten":["m"]}],"mark":{"type":"tick","orient":"horizontal","size":8,"thickness":2,"xOffset":-4,"color":"#111"},
 "encoding":{"x":{"field":"m","type":"quantitative","scale":{"domain":[0,45],"nice":false,"zero":false},"axis":null},
  "y":{"field":"v","type":"quantitative","scale":{"domain":[14.2,14.7],"range":[1232,1124],"zero":false,"nice":false},"axis":null}}}
]
}
